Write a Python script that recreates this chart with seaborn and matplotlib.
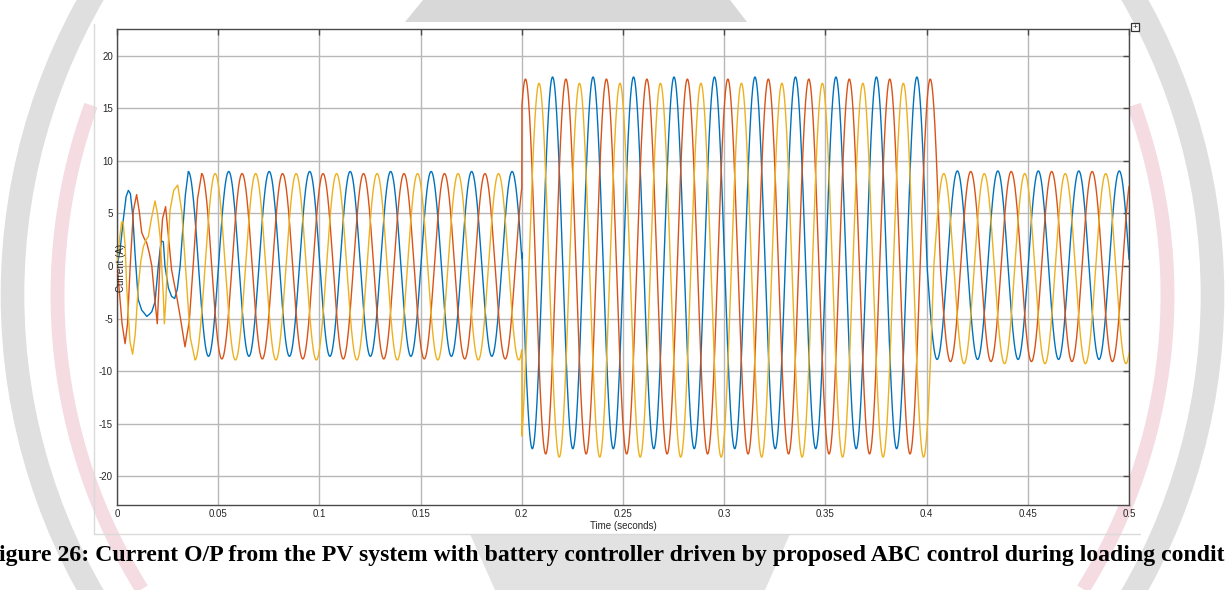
import numpy as np
import pandas as pd
import matplotlib
matplotlib.use("Agg")
import matplotlib.pyplot as plt
import seaborn as sns
from matplotlib.patches import Arc, Polygon, Rectangle

# ---------------------------------------------------------------
# Three-phase inverter output current (A) versus time (s)
# ---------------------------------------------------------------
FREQ_HZ = 50.0
T_END = 0.5
# load connected at 0.2 s; each phase is released at its own current zero
LOAD_ON = 0.2
load_off = [0.4002, 0.4068, 0.4035]

phases = ["Ia", "Ib", "Ic"]
colors = ["#0072BD", "#D95319", "#EDB120"]

# time of a positive current peak for each phase (sets the phase angle)
peak_time = [0.0152, 0.0018, 0.0085]

# positive / negative peak values in each interval: before, during, after loading
ia_pos = [9.0, 18.0, 9.05]
ia_neg = [-8.6, -17.4, -8.9]
ib_pos = [8.8, 17.8, 9.0]
ib_neg = [-8.85, -17.9, -9.1]
ic_pos = [8.8, 17.4, 8.8]
ic_neg = [-8.95, -18.2, -9.3]

# start-up transient (t, i) of each phase, until its steady waveform begins
ia_start_t = [0.0, 0.0015, 0.0031, 0.0045, 0.0056, 0.0066, 0.0078, 0.0089, 0.0105,
              0.0122, 0.0135, 0.0147, 0.0160, 0.0172, 0.0188, 0.0204, 0.0218, 0.0229,
              0.0237, 0.0254, 0.0270, 0.0285, 0.0298, 0.0312, 0.0325, 0.0338]
ia_start_i = [0.0, 1.5, 4.4, 6.6, 7.2, 6.9, 4.8, 1.2, -3.2,
              -4.2, -4.5, -4.8, -4.6, -4.35, -3.4, 0.0, 2.4, 2.3,
              0.0, -2.1, -2.9, -3.1, -2.2, 0.0, 3.5, 6.8]
ib_start_t = [0.0, 0.0012, 0.0025, 0.0040, 0.0052, 0.0064, 0.0081, 0.0097, 0.0110,
              0.0122, 0.0135, 0.0147, 0.0160, 0.0172, 0.0185, 0.0199, 0.0206, 0.0213,
              0.0225, 0.0240, 0.0254, 0.0270, 0.0295, 0.0312, 0.0336, 0.0357, 0.0378,
              0.0398]
ib_start_i = [0.0, -2.5, -5.5, -7.4, -5.5, -0.4, 5.3, 6.8, 5.2,
              3.2, 2.6, 2.2, 1.2, 0.0, -2.8, -5.5, -2.5, 1.0,
              4.5, 5.65, 2.8, -0.4, -2.9, -4.8, -7.7, -5.3, 0.5,
              6.4]
ic_start_t = [0.0, 0.0012, 0.0023, 0.0030, 0.0040, 0.0048, 0.0064, 0.0077, 0.0090,
              0.0105, 0.0118, 0.0130, 0.0143, 0.0155, 0.0170, 0.0188, 0.0200, 0.0213,
              0.0222, 0.0229, 0.0234, 0.0242, 0.0252, 0.0262, 0.0280, 0.0300, 0.0320,
              0.0340, 0.0362]
ic_start_i = [0.0, 2.5, 4.2, 4.2, 2.0, -2.0, -7.2, -8.4, -6.5,
              -2.0, 0.5, 1.8, 2.5, 2.8, 4.5, 6.2, 5.0, 2.8,
              -0.5, -2.9, -5.5, -3.0, 1.5, 5.3, 7.2, 7.7, 5.2,
              -0.5, -6.8]
steady_from = [0.0352, 0.0418, 0.0385]

x_ticks = [0.0, 0.05, 0.1, 0.15, 0.2, 0.25, 0.3, 0.35, 0.4, 0.45, 0.5]
x_tick_labels = ["0", "0.05", "0.1", "0.15", "0.2", "0.25", "0.3", "0.35", "0.4", "0.45", "0.5"]
y_ticks = [-20, -15, -10, -5, 0, 5, 10, 15, 20]
y_tick_labels = ["-20", "-15", "-10", "-5", "0", "5", "10", "15", "20"]

caption = ("igure 26: Current O/P from the PV system with battery controller "
           "driven by proposed ABC control during loading condit")


def phase_current(t0, tpk, t_off, pos, neg):
    """Steady 50 Hz waveform from t0 to the end, with per-interval peaks."""
    t = np.arange(t0, T_END + 1e-9, 2.5e-5)
    seg = np.searchsorted([LOAD_ON, t_off], t, side="right")
    pos = np.asarray(pos)[seg]
    neg = np.asarray(neg)[seg]
    amp = (pos - neg) / 2.0
    off = (pos + neg) / 2.0
    return t, off + amp * np.cos(2 * np.pi * FREQ_HZ * (t - tpk))


frames = []
for k, (name, st_t, st_i, pos, neg) in enumerate([
    ("Ia", ia_start_t, ia_start_i, ia_pos, ia_neg),
    ("Ib", ib_start_t, ib_start_i, ib_pos, ib_neg),
    ("Ic", ic_start_t, ic_start_i, ic_pos, ic_neg),
]):
    ts, cs = phase_current(steady_from[k], peak_time[k], load_off[k], pos, neg)
    frames.append(pd.DataFrame({
        "time": np.concatenate([st_t, ts]),
        "current": np.concatenate([st_i, cs]),
        "phase": name,
    }))
data = pd.concat(frames, ignore_index=True)

# ---------------------------------------------------------------
sns.set_style("white")
plt.rcParams["font.family"] = ["Liberation Sans", "DejaVu Sans"]
plt.rcParams["axes.unicode_minus"] = False

W, H = 1225, 590
fig = plt.figure(figsize=(W / 100, H / 100), dpi=100)
fig.patch.set_facecolor("white")


def fx(px):
    return px / W


def fy(py):
    return 1 - py / H


# faint journal watermark behind the figure
cx, cy = W / 200, H / 200
for th1, th2 in [(145, 215), (-35, 35)]:
    fig.add_artist(Arc((cx, cy), 12.0, 12.0, theta1=th1, theta2=th2,
                       transform=fig.dpi_scale_trans, color="#dfdfdf", lw=17, zorder=0))
for th1, th2 in [(160, 212), (-32, 20)]:
    fig.add_artist(Arc((cx, cy), 11.1, 11.1, theta1=th1, theta2=th2,
                       transform=fig.dpi_scale_trans, color="#f5dbe2", lw=10, zorder=0))
fig.add_artist(Polygon([(fx(423), fy(0)), (fx(730), fy(0)), (fx(747), fy(22)), (fx(405), fy(22))],
                       closed=True, transform=fig.transFigure, facecolor="#d8d8d8",
                       edgecolor="none", zorder=0))
fig.add_artist(Polygon([(fx(470), fy(534)), (fx(790), fy(534)), (fx(765), fy(590)), (fx(495), fy(590))],
                       closed=True, transform=fig.transFigure, facecolor="#e2e2e2",
                       edgecolor="none", zorder=0))

# scope window border
fig.add_artist(plt.Line2D([fx(94), fx(94), fx(1140)], [fy(24), fy(534), fy(534)],
                          transform=fig.transFigure, color="#dadada", lw=1, zorder=0.5))

ax = fig.add_axes([fx(117), fy(505), fx(1129) - fx(117), fy(29) - fy(505)])
ax.set_facecolor("white")

sns.lineplot(data=data, x="time", y="current", hue="phase", hue_order=phases,
             palette=colors, estimator=None, sort=False, lw=1.0, legend=False,
             ax=ax, zorder=3)

ax.set_xlim(0, 0.5)
ax.set_ylim(-22.76, 22.57)
ax.set_xticks(x_ticks)
ax.set_xticklabels(x_tick_labels)
ax.set_yticks(y_ticks)
ax.set_yticklabels(y_tick_labels)
ax.grid(True, color="#b8b8b8", lw=1.0, zorder=1)
ax.set_axisbelow(True)
for sp in ax.spines.values():
    sp.set_color("#4a4a4a")
    sp.set_linewidth(1.0)
ax.tick_params(axis="both", direction="in", length=4, width=1, color="#4a4a4a",
               labelsize=7, labelcolor="#262626", top=True, right=True, pad=3)
ax.set_xlabel("Time (seconds)", fontsize=7, color="#262626", labelpad=1)
ax.set_ylabel("")

fig.text(fx(121), fy(268), "Current (A)", rotation=90, fontsize=7, color="#262626",
         ha="center", va="center", zorder=2)

# small toolbar glyph at the upper-right corner of the scope
fig.add_artist(Rectangle((fx(1131), fy(31)), fx(8), fy(23) - fy(31), transform=fig.transFigure,
                         facecolor="white", edgecolor="#333333", lw=0.9, zorder=5))
fig.text(fx(1135), fy(27), "+", fontsize=6, ha="center", va="center", color="#222222", zorder=6)

fig.text(fx(612), fy(555), caption, fontsize=17.1, fontweight="bold",
         family=["Liberation Serif", "DejaVu Serif"], ha="center", va="center", color="black")

fig.savefig("out.png", dpi=100)
